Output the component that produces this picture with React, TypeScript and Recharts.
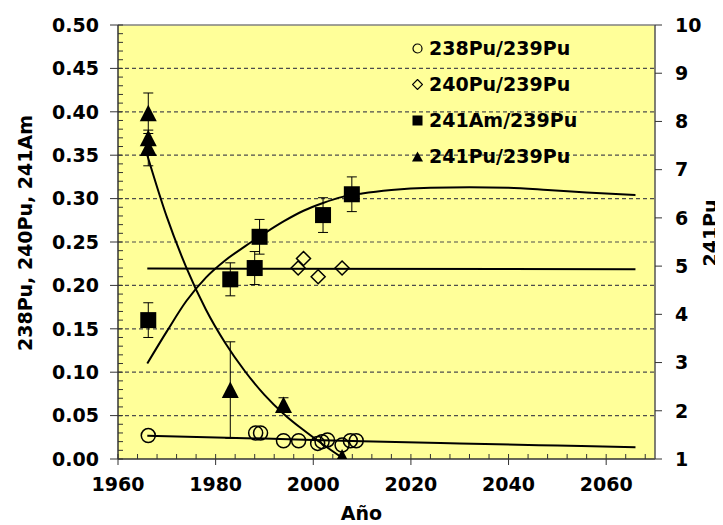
import React from 'react';
import {
  ComposedChart,
  XAxis,
  YAxis,
  Scatter,
  Line,
  ErrorBar,
  ReferenceLine,
  CartesianGrid,
  Legend,
} from 'recharts';

const FONT = '"DejaVu Sans", Verdana, sans-serif';
const AXIS = '#333333';
const GRID = '#4d4d4d';
const PLOT_BG = '#FFFF99';

// ---- axes / ticks ----
const xMajorTicks = [1960, 1980, 2000, 2020, 2040, 2060];
const xTicks = [
  1960, 1964, 1968, 1972, 1976, 1980, 1984, 1988, 1992, 1996, 2000, 2004, 2008, 2012,
  2016, 2020, 2024, 2028, 2032, 2036, 2040, 2044, 2048, 2052, 2056, 2060, 2064, 2068,
];
const leftTicks = Array.from({ length: 51 }, (_, i) => i / 100);
const rightTicks = [1, 2, 3, 4, 5, 6, 7, 8, 9, 10];
const gridValues = [0.05, 0.1, 0.15, 0.2, 0.25, 0.3, 0.35, 0.4, 0.45];

const seriesNames = ['238Pu/239Pu', '240Pu/239Pu', '241Am/239Pu', '241Pu/239Pu'];
const leftAxisTitle = '238Pu, 240Pu, 241Am';
const rightAxisTitle = '241Pu';
const xAxisTitle = 'Año';

// ---- measured values ----
const pu238Years = [1966.2, 1988.2, 1989.2, 1993.9, 1997.0, 2000.9, 2001.8, 2002.9, 2005.9, 2007.6, 2008.8];
const pu238Values = [0.027, 0.03, 0.03, 0.021, 0.021, 0.018, 0.02, 0.022, 0.016, 0.021, 0.021];

const pu240Years = [1996.9, 1998.0, 2001.0, 2005.9];
const pu240Values = [0.22, 0.231, 0.21, 0.22];

const am241Years = [1966.2, 1983.0, 1988.0, 1989.0, 2002.0, 2007.9];
const am241Values = [0.16, 0.207, 0.22, 0.256, 0.281, 0.305];
const am241Errors = [0.02, 0.019, 0.019, 0.02, 0.02, 0.02];

const pu241Years = [1966.2, 1966.2, 1966.2, 1983.0, 1993.9, 2005.9];
const pu241Values = [8.17, 7.65, 7.45, 2.43, 2.12, 1.03];
const pu241Errors = [0.42, 0, 0.37, 1.0, 0.15, 0];

// ---- fitted curves ----
const fit238Years = [1966, 1990, 2010, 2030, 2050, 2066];
const fit238Values = [0.0268, 0.0235, 0.0205, 0.018, 0.0155, 0.0136];

const fit240Years = [1966, 2066];
const fit240Values = [0.2195, 0.2185];

const fitAmYears = [1966, 1970, 1974, 1978, 1982, 1986, 1990, 1994, 1998, 2002, 2006, 2010, 2016, 2024, 2032, 2040, 2048, 2056, 2066];
const fitAmValues = [0.11, 0.147, 0.182, 0.209, 0.229, 0.245, 0.26, 0.274, 0.286, 0.295, 0.302, 0.306, 0.31, 0.3125, 0.313, 0.3125, 0.31, 0.307, 0.304];

const fitPu241Years = [1966, 1970, 1974, 1978, 1982, 1986, 1990, 1994, 1998, 2002, 2006];
const fitPu241Values = [7.3, 6.02, 4.97, 4.1, 3.4, 2.82, 2.33, 1.93, 1.6, 1.3, 1.02];

const toPoints = (xs: number[], ys: number[], errs?: number[]) =>
  xs.map((x, i) => (errs ? { x, y: ys[i], err: errs[i] } : { x, y: ys[i] }));

const pu238 = toPoints(pu238Years, pu238Values);
const pu240 = toPoints(pu240Years, pu240Values);
const am241 = toPoints(am241Years, am241Values, am241Errors);
const pu241 = toPoints(pu241Years, pu241Values, pu241Errors);
const fit238 = toPoints(fit238Years, fit238Values);
const fit240 = toPoints(fit240Years, fit240Values);
const fitAm = toPoints(fitAmYears, fitAmValues);
const fitPu241 = toPoints(fitPu241Years, fitPu241Values);

const textStyle = { fontFamily: FONT, fontWeight: 'bold' as const, fontSize: 19, fill: '#000' };

// ---- marker shapes ----
const CircleShape = (p: any) => (
  <circle cx={p.cx} cy={p.cy} r={7} fill="none" stroke="#000" strokeWidth={1.5} />
);
const DiamondShape = (p: any) => {
  const { cx, cy } = p;
  const r = 7;
  return (
    <polygon
      points={`${cx},${cy - r} ${cx + r},${cy} ${cx},${cy + r} ${cx - r},${cy}`}
      fill="none"
      stroke="#000"
      strokeWidth={1.5}
    />
  );
};
const SquareShape = (p: any) => <rect x={p.cx - 8} y={p.cy - 8} width={16} height={16} fill="#000" />;
const TriangleShape = (p: any) => {
  const { cx, cy } = p;
  return <polygon points={`${cx},${cy - 8.5} ${cx + 8.5},${cy + 8} ${cx - 8.5},${cy + 8}`} fill="#000" />;
};

// ---- ticks ----
const XTick = (props: any) => {
  const { x, y, payload } = props;
  const axisY = y - 19;
  const v = payload.value;
  const major = xMajorTicks.includes(v);
  return (
    <g>
      <line x1={x} x2={x} y1={axisY - 5} y2={major ? axisY + 6 : axisY} stroke={AXIS} strokeWidth={1} />
      {major && (
        <text x={x} y={y} dy="0.71em" textAnchor="middle" style={textStyle}>
          {v}
        </text>
      )}
    </g>
  );
};

const LeftTick = (props: any) => {
  const { x, y, payload } = props;
  const axisX = x + 19;
  const v = payload.value;
  const major = Math.abs(v * 20 - Math.round(v * 20)) < 1e-6;
  return (
    <g>
      <line x1={major ? axisX - 8 : axisX} x2={axisX + 5} y1={y} y2={y} stroke={AXIS} strokeWidth={1} />
      {major && (
        <text x={x} y={y} dy="0.355em" textAnchor="end" style={textStyle}>
          {v.toFixed(2)}
        </text>
      )}
    </g>
  );
};

const AxisTitle = (props: any) => {
  const { tx, ty, rot, text } = props;
  return (
    <text
      x={tx}
      y={ty}
      dy="0.355em"
      textAnchor="middle"
      transform={rot ? `rotate(${rot}, ${tx}, ${ty})` : undefined}
      style={textStyle}
    >
      {text}
    </text>
  );
};

const legendMarkers = [
  <circle cx={5.5} cy={5.5} r={4.5} fill="none" stroke="#000" strokeWidth={1.2} />,
  <polygon points="5.5,0.5 10.5,5.5 5.5,10.5 0.5,5.5" fill="none" stroke="#000" strokeWidth={1.2} />,
  <rect x={0.5} y={0.5} width={10} height={10} fill="#000" />,
  <polygon points="5.5,0.5 11,10.5 0,10.5" fill="#000" />,
];

const LegendContent = () => (
  <div style={{ fontFamily: FONT, fontWeight: 'bold', fontSize: 19, color: '#000' }}>
    {seriesNames.map((name, i) => (
      <div key={name} style={{ display: 'flex', alignItems: 'center', height: 36 }}>
        <svg width={11} height={11} style={{ marginRight: 6 }}>
          {legendMarkers[i]}
        </svg>
        <span>{name}</span>
      </div>
    ))}
  </div>
);

export default function App() {
  return (
    <ComposedChart width={715} height={517} margin={{ top: 17, right: 0, bottom: 0, left: 0 }}>
      <CartesianGrid xAxisId="main" yAxisId="left" horizontal={false} vertical={false} fill={PLOT_BG} fillOpacity={1} />
      <XAxis
        xAxisId="main"
        type="number"
        dataKey="x"
        domain={[1960, 2070]}
        allowDataOverflow
        ticks={xTicks}
        interval={0}
        height={66}
        tickSize={6}
        tickMargin={13}
        tickLine={false}
        axisLine={{ stroke: AXIS, strokeWidth: 1.5 }}
        tick={<XTick />}
        label={<AxisTitle tx={353.5} ty={505} text={xAxisTitle} />}
      />
      <YAxis
        yAxisId="left"
        type="number"
        dataKey="y"
        domain={[0, 0.5]}
        allowDataOverflow
        ticks={leftTicks}
        interval={0}
        width={110}
        tickSize={8}
        tickMargin={11}
        tickLine={false}
        axisLine={{ stroke: AXIS, strokeWidth: 1.5 }}
        tick={<LeftTick />}
        label={<AxisTitle tx={17} ty={225} rot={-90} text={leftAxisTitle} />}
      />
      <YAxis
        yAxisId="right"
        orientation="right"
        type="number"
        dataKey="y"
        domain={[1, 10]}
        allowDataOverflow
        ticks={rightTicks}
        interval={0}
        width={68}
        tickSize={7}
        tickMargin={13}
        tickLine={{ stroke: AXIS }}
        axisLine={{ stroke: '#555555', strokeWidth: 1.5 }}
        tick={textStyle}
        label={<AxisTitle tx={702} ty={225} rot={-90} text={rightAxisTitle} />}
      />
      {gridValues.map((v) => (
        <ReferenceLine key={v} xAxisId="main" yAxisId="left" y={v} stroke={GRID} strokeDasharray="4 3" strokeWidth={1.2} />
      ))}
      <ReferenceLine xAxisId="main" yAxisId="left" y={0.5} stroke="#808080" strokeWidth={1.5} />

      <Line data={fit238} xAxisId="main" yAxisId="left" dataKey="y" type="monotone" dot={false} stroke="#000" strokeWidth={2} isAnimationActive={false} />
      <Line data={fit240} xAxisId="main" yAxisId="left" dataKey="y" type="monotone" dot={false} stroke="#000" strokeWidth={2} isAnimationActive={false} />
      <Line data={fitAm} xAxisId="main" yAxisId="left" dataKey="y" type="monotone" dot={false} stroke="#000" strokeWidth={2} isAnimationActive={false} />
      <Line data={fitPu241} xAxisId="main" yAxisId="right" dataKey="y" type="monotone" dot={false} stroke="#000" strokeWidth={2} isAnimationActive={false} />

      <Scatter data={pu238} xAxisId="main" yAxisId="left" dataKey="y" shape={CircleShape} isAnimationActive={false} />
      <Scatter data={pu240} xAxisId="main" yAxisId="left" dataKey="y" shape={DiamondShape} isAnimationActive={false} />
      <Scatter data={am241} xAxisId="main" yAxisId="left" dataKey="y" shape={SquareShape} isAnimationActive={false}>
        <ErrorBar dataKey="err" direction="y" width={5} stroke="#000" strokeWidth={1} />
      </Scatter>
      <Scatter data={pu241} xAxisId="main" yAxisId="right" dataKey="y" shape={TriangleShape} isAnimationActive={false}>
        <ErrorBar dataKey="err" direction="y" width={5} stroke="#000" strokeWidth={1} />
      </Scatter>

      <Legend
        content={<LegendContent />}
        layout="vertical"
        align="center"
        verticalAlign="middle"
        wrapperStyle={{ position: 'absolute', left: 404, top: 22, width: 'auto' }}
      />
    </ComposedChart>
  );
}
